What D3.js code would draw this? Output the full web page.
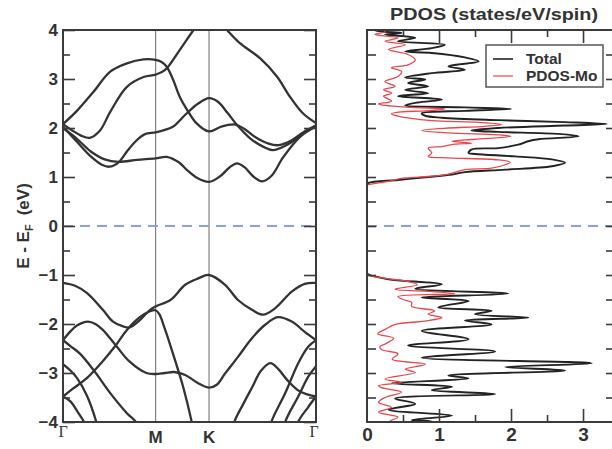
<!DOCTYPE html>
<html><head><meta charset="utf-8">
<script src="https://cdn.jsdelivr.net/npm/d3@7"></script>
<style>body{margin:0;background:#fff}</style>
</head><body>
<svg id="c" width="612" height="449" xmlns="http://www.w3.org/2000/svg"></svg>
<script>
// ---------------- data ----------------
const kPoints = [0, 1, 1.577, 2.732];
const kLabels = ["Γ", "M", "K", "Γ"];
const energyTicks = [-4, -3, -2, -1, 0, 1, 2, 3, 4];
const dosTicks = [0, 1, 2, 3];
const fermiLevel = 0;

// band structure: [k, E]
const cb1 = [[0,2.08],[0.15,2.35],[0.33,2.74],[0.51,3.15],[0.69,3.32],[0.87,3.40],[1.0,3.39],[1.06,3.35],[1.12,3.25],[1.19,2.98],[1.26,2.64],[1.34,2.37],[1.44,2.10],[1.577,1.93],[1.71,2.03],[1.86,2.07],[1.96,1.98],[2.07,1.82],[2.22,1.68],[2.33,1.65],[2.47,1.75],[2.60,1.92],[2.732,2.05]];
const cb2 = [[0,2.08],[0.1,1.95],[0.2,1.84],[0.29,1.80],[0.4,1.95],[0.51,2.33],[0.69,2.84],[0.87,3.04],[1.0,3.09],[1.10,3.18],[1.26,3.59],[1.41,4.0],[1.577,4.4],[1.77,4.0],[1.91,3.73],[2.13,3.42],[2.31,3.05],[2.45,2.64],[2.59,2.30],[2.732,2.10]];
const cb3 = [[0,2.03],[0.15,1.72],[0.3,1.42],[0.42,1.25],[0.5,1.21],[0.6,1.30],[0.69,1.52],[0.78,1.72],[0.88,1.87],[1.0,1.91],[1.1,1.96],[1.19,2.03],[1.32,2.27],[1.46,2.50],[1.577,2.61],[1.67,2.54],[1.78,2.30],[1.88,2.06],[2.02,1.79],[2.16,1.62],[2.27,1.55],[2.45,1.69],[2.59,1.89],[2.732,2.05]];
const cb4 = [[0,2.0],[0.15,1.78],[0.3,1.52],[0.45,1.36],[0.6,1.31],[0.8,1.35],[1.0,1.38],[1.12,1.41],[1.25,1.30],[1.34,1.14],[1.45,0.98],[1.577,0.90],[1.70,1.02],[1.80,1.20],[1.88,1.28],[1.96,1.20],[2.05,1.02],[2.15,0.91],[2.25,1.02],[2.38,1.41],[2.56,1.82],[2.732,2.03]];
const vb1 = [[0,-1.16],[0.13,-1.22],[0.26,-1.37],[0.43,-1.71],[0.54,-1.95],[0.65,-2.05],[0.72,-2.07],[0.83,-1.92],[0.94,-1.71],[1.0,-1.64],[1.16,-1.51],[1.32,-1.20],[1.46,-1.07],[1.577,-1.0],[1.75,-1.20],[1.89,-1.51],[2.04,-1.71],[2.16,-1.81],[2.29,-1.68],[2.47,-1.34],[2.61,-1.18],[2.732,-1.16]];
const vb2 = [[0,-2.33],[0.08,-2.15],[0.15,-2.03],[0.27,-1.95],[0.35,-2.0],[0.43,-2.12],[0.58,-2.46],[0.72,-2.77],[0.9,-3.0],[1.0,-3.02],[1.1,-3.0],[1.2,-2.98],[1.32,-3.04],[1.46,-3.21],[1.577,-3.30],[1.66,-3.24],[1.75,-3.01],[1.89,-2.67],[2.04,-2.29],[2.18,-2.02],[2.32,-1.86],[2.47,-1.95],[2.61,-2.16],[2.732,-2.33]];
const vb3 = [[0,-3.48],[0.1,-3.33],[0.26,-3.10],[0.42,-2.78],[0.56,-2.46],[0.69,-2.12],[0.83,-1.86],[0.94,-1.74],[1.0,-1.72],[1.04,-1.80],[1.10,-2.10],[1.19,-2.62],[1.30,-3.30],[1.39,-4.0],[1.42,-4.3]];
const vb4 = [[0,-2.33],[0.08,-2.45],[0.18,-2.60],[0.33,-2.94],[0.51,-3.41],[0.69,-3.82],[0.80,-4.03],[0.84,-4.3]];
const vb5 = [[0,-2.82],[0.08,-2.95],[0.15,-3.10],[0.26,-3.47],[0.36,-4.0],[0.40,-4.3]];
const vb6 = [[0,-3.48],[0.08,-3.58],[0.16,-3.80],[0.24,-4.05],[0.27,-4.3]];
const vb7 = [[1.82,-4.3],[1.85,-4.0],[1.95,-3.62],[2.04,-3.30],[2.14,-2.95],[2.24,-2.80],[2.33,-2.93],[2.42,-3.14],[2.56,-3.38],[2.732,-3.48]];
const vb8 = [[2.22,-4.3],[2.25,-4.0],[2.40,-3.41],[2.54,-2.80],[2.65,-2.46],[2.732,-2.33]];
const vb9 = [[2.38,-4.3],[2.40,-4.0],[2.54,-3.48],[2.65,-3.07],[2.732,-2.86]];
const vb10 = [[2.52,-4.3],[2.54,-4.0],[2.65,-3.69],[2.732,-3.48]];
const bands = [cb1, cb2, cb3, cb4, vb1, vb2, vb3, vb4, vb5, vb6, vb7, vb8, vb9, vb10];

// PDOS: [E, states/eV/spin]
const totalValence = [[-4.1,0.9],[-4.0,0.9],[-3.96,0.62],[-3.87,1.18],[-3.75,0.30],[-3.63,0.67],[-3.52,0.39],[-3.43,1.78],[-3.35,0.9],[-3.28,1.18],[-3.21,0.34],[-3.11,1.41],[-3.05,1.13],[-2.95,2.75],[-2.88,1.92],[-2.80,3.12],[-2.69,0.76],[-2.56,1.78],[-2.44,0.57],[-2.31,1.41],[-2.14,0.76],[-2.01,1.73],[-1.93,1.36],[-1.87,2.24],[-1.80,1.5],[-1.73,1.73],[-1.66,0.99],[-1.53,1.41],[-1.46,0.76],[-1.38,1.96],[-1.28,0.67],[-1.19,1.04],[-1.10,0.35],[-1.06,0.2],[-0.99,0.02],[-0.95,0]];
const moValence = [[-4.1,0.3],[-4.0,0.3],[-3.90,0.43],[-3.80,0.16],[-3.70,0.34],[-3.60,0.16],[-3.50,0.25],[-3.39,0.48],[-3.30,0.2],[-3.26,0.16],[-3.19,0.48],[-3.12,0.25],[-2.99,0.67],[-2.92,0.53],[-2.82,0.81],[-2.72,0.35],[-2.61,0.43],[-2.52,0.2],[-2.46,0.18],[-2.41,0.25],[-2.29,0.37],[-2.2,0.15],[-2.11,0.25],[-2.01,0.39],[-1.94,0.8],[-1.87,1.04],[-1.80,0.85],[-1.73,0.94],[-1.64,0.62],[-1.56,0.62],[-1.50,0.5],[-1.44,0.43],[-1.38,1.22],[-1.33,0.8],[-1.29,0.39],[-1.2,0.7],[-1.12,0.53],[-1.06,0.2],[-0.99,0],[-0.95,0]];
const totalConduction = [[0.84,0],[0.88,0.02],[0.94,0.43],[1.0,0.85],[1.05,1.18],[1.10,1.36],[1.15,1.92],[1.22,2.57],[1.29,2.75],[1.36,2.57],[1.42,2.06],[1.47,1.5],[1.49,1.41],[1.56,1.45],[1.59,1.82],[1.66,2.1],[1.73,2.24],[1.77,2.38],[1.83,2.94],[1.88,2.66],[1.92,1.82],[1.95,1.45],[2.0,1.82],[2.05,2.75],[2.08,3.33],[2.12,2.75],[2.16,1.82],[2.21,1.04],[2.25,0.81],[2.30,0.76],[2.35,1.36],[2.39,2.0],[2.42,1.36],[2.46,0.53],[2.52,0.7],[2.58,1.04],[2.65,0.43],[2.71,0.85],[2.78,0.53],[2.85,0.85],[2.92,0.57],[2.99,0.81],[3.03,0.53],[3.12,0.90],[3.19,1.36],[3.26,1.13],[3.36,1.55],[3.44,1.36],[3.53,0.9],[3.56,0.53],[3.63,0.9],[3.70,1.08],[3.77,0.43],[3.84,0.67],[3.91,0.25],[3.94,0.48],[3.99,0.11],[4.1,0.3]];
const moConduction = [[0.84,0],[0.90,0.25],[0.98,0.53],[1.01,0.85],[1.05,1.10],[1.15,1.36],[1.18,1.73],[1.25,1.92],[1.30,1.99],[1.35,1.82],[1.39,1.13],[1.42,0.85],[1.49,0.9],[1.59,0.85],[1.62,1.04],[1.67,1.22],[1.69,1.45],[1.73,1.18],[1.77,1.5],[1.83,2.0],[1.86,1.82],[1.90,1.13],[1.95,0.76],[2.0,1.13],[2.03,1.59],[2.07,1.87],[2.12,1.5],[2.15,0.9],[2.24,0.43],[2.29,0.34],[2.33,0.48],[2.35,0.81],[2.39,1.08],[2.42,0.62],[2.46,0.25],[2.49,0.16],[2.55,0.34],[2.65,0.23],[2.71,0.34],[2.78,0.23],[2.85,0.39],[2.95,0.25],[3.05,0.43],[3.15,0.48],[3.23,0.34],[3.29,0.57],[3.39,0.67],[3.50,0.57],[3.60,0.30],[3.70,0.53],[3.77,0.25],[3.84,0.43],[3.91,0.11],[3.97,0.25],[4.1,0.1]];

const legendLabels = ["Total", "PDOS-Mo"];
const seriesColors = ["#222222", "#e8474c"];

// ---------------- drawing ----------------
const svg = d3.select("#c");
const sans = "'Liberation Sans', Arial, Helvetica, sans-serif";
const frameColor = "#3a3a3a";

const L = {x0: 63, x1: 316, y0: 30, y1: 422};
const R = {x0: 367, x1: 615, y0: 30, y1: 422};

const kx = d3.scaleLinear().domain([0, 2.732]).range([L.x0, L.x1]);
const ey = d3.scaleLinear().domain([-4, 4]).range([L.y1, L.y0]);
const dx = d3.scaleLinear().domain([0, 3.444]).range([R.x0, R.x1]);

const defs = svg.append("defs");
defs.append("clipPath").attr("id", "clipL").append("rect")
  .attr("x", L.x0).attr("y", L.y0).attr("width", L.x1 - L.x0).attr("height", L.y1 - L.y0);
defs.append("clipPath").attr("id", "clipR").append("rect")
  .attr("x", R.x0).attr("y", R.y0).attr("width", R.x1 - R.x0).attr("height", R.y1 - R.y0);

const minorE = d3.range(-3.5, 4, 1);

// ----- left panel -----
const gL = svg.append("g");
// high-symmetry lines
gL.selectAll("line.hs").data(kPoints.slice(1, 3)).join("line")
  .attr("x1", d => kx(d)).attr("x2", d => kx(d))
  .attr("y1", L.y0).attr("y2", L.y1)
  .attr("stroke", "#808080").attr("stroke-width", 1.2);
// Fermi level
gL.append("line").attr("x1", L.x0).attr("x2", L.x1)
  .attr("y1", ey(fermiLevel)).attr("y2", ey(fermiLevel))
  .attr("stroke", "#8d9cf0").attr("stroke-width", 2).attr("stroke-dasharray", "10,7");
// bands
const bandLine = d3.line().x(d => kx(d[0])).y(d => ey(d[1])).curve(d3.curveCatmullRom.alpha(0.5));
gL.append("g").attr("clip-path", "url(#clipL)")
  .selectAll("path").data(bands).join("path")
  .attr("d", bandLine).attr("fill", "none")
  .attr("stroke", "#333").attr("stroke-width", 2.3).attr("stroke-linejoin", "round");

// ticks
function ticksOnly(axis, g) { g.call(axis); g.select(".domain").remove(); g.selectAll("text").remove(); g.selectAll("line").attr("stroke", frameColor).attr("stroke-width", 1.6); }
ticksOnly(d3.axisRight(ey).tickValues(energyTicks).tickSize(12), gL.append("g").attr("transform", `translate(${L.x0},0)`));
ticksOnly(d3.axisRight(ey).tickValues(minorE).tickSize(7), gL.append("g").attr("transform", `translate(${L.x0},0)`));
ticksOnly(d3.axisLeft(ey).tickValues(energyTicks).tickSize(12), gL.append("g").attr("transform", `translate(${L.x1},0)`));
ticksOnly(d3.axisLeft(ey).tickValues(minorE).tickSize(7), gL.append("g").attr("transform", `translate(${L.x1},0)`));

// labels
const yLab = gL.append("g").attr("transform", `translate(${L.x0},0)`)
  .call(d3.axisLeft(ey).tickValues(energyTicks).tickSize(0).tickPadding(5).tickFormat(d3.format("d")));
yLab.select(".domain").remove();
yLab.selectAll("text").attr("font-family", sans).attr("font-weight", "bold").attr("font-size", 17).attr("fill", "#333");

gL.append("rect").attr("x", L.x0).attr("y", L.y0).attr("width", L.x1 - L.x0).attr("height", L.y1 - L.y0)
  .attr("fill", "none").attr("stroke", frameColor).attr("stroke-width", 2);

// k labels
kLabels.forEach((lab, i) => {
  const isG = lab === "Γ";
  gL.append("text").attr("x", kx(kPoints[i]) + (i === 3 ? -2 : 0)).attr("y", isG ? 437 : 443)
    .attr("text-anchor", "middle")
    .attr("font-family", isG ? "'Liberation Serif', 'Times New Roman', serif" : sans)
    .attr("font-weight", isG ? "normal" : "bold")
    .attr("font-size", isG ? 16 : 17).attr("fill", "#333").text(lab);
});

// y axis title
const yt = svg.append("text").attr("transform", `translate(29,${ey(0)}) rotate(-90)`)
  .attr("text-anchor", "middle").attr("font-family", sans).attr("font-weight", "bold")
  .attr("font-size", 17).attr("fill", "#333");
yt.append("tspan").text("E - E");
yt.append("tspan").attr("font-size", 11).attr("dy", 4).text("F");
yt.append("tspan").attr("dy", -4).attr("dx", 9).text("(eV)");

// ----- right panel -----
const gR = svg.append("g");
gR.append("line").attr("x1", R.x0).attr("x2", R.x1)
  .attr("y1", ey(fermiLevel)).attr("y2", ey(fermiLevel))
  .attr("stroke", "#8d9cf0").attr("stroke-width", 2).attr("stroke-dasharray", "10,7");

const dosLine = d3.line().x(d => dx(d[1])).y(d => ey(d[0])).curve(d3.curveCatmullRom.alpha(0.5));
const gc = gR.append("g").attr("clip-path", "url(#clipR)");
[[totalValence, totalConduction], [moValence, moConduction]].forEach((segs, i) => {
  segs.forEach(s => gc.append("path").attr("d", dosLine(s)).attr("fill", "none")
    .attr("stroke", seriesColors[i]).attr("stroke-width", i === 0 ? 1.9 : 1.3)
    .attr("stroke-linejoin", "round"));
});

const halfE = d3.range(-3.5, 4, 0.5);
ticksOnly(d3.axisRight(ey).tickValues(halfE).tickSize(9), gR.append("g").attr("transform", `translate(${R.x0},0)`));
ticksOnly(d3.axisLeft(ey).tickValues(halfE).tickSize(9), gR.append("g").attr("transform", `translate(${R.x1},0)`));
const minorD = [0.5, 1.5, 2.5];
ticksOnly(d3.axisTop(dx).tickValues(dosTicks.slice(1)).tickSize(13), gR.append("g").attr("transform", `translate(0,${R.y1})`));
ticksOnly(d3.axisTop(dx).tickValues(minorD).tickSize(7), gR.append("g").attr("transform", `translate(0,${R.y1})`));
ticksOnly(d3.axisBottom(dx).tickValues(dosTicks.slice(1)).tickSize(13), gR.append("g").attr("transform", `translate(0,${R.y0})`));
ticksOnly(d3.axisBottom(dx).tickValues(minorD).tickSize(7), gR.append("g").attr("transform", `translate(0,${R.y0})`));

const xLab = gR.append("g").attr("transform", `translate(0,${R.y1})`)
  .call(d3.axisBottom(dx).tickValues(dosTicks).tickSize(0).tickPadding(6).tickFormat(d3.format("d")));
xLab.select(".domain").remove();
xLab.selectAll("text").attr("font-family", sans).attr("font-weight", "bold").attr("font-size", 19).attr("fill", "#333");

gR.append("rect").attr("x", R.x0).attr("y", R.y0).attr("width", R.x1 - R.x0).attr("height", R.y1 - R.y0)
  .attr("fill", "none").attr("stroke", frameColor).attr("stroke-width", 2);

// title
svg.append("text").attr("x", 494).attr("y", 20).attr("text-anchor", "middle")
  .attr("font-family", sans).attr("font-weight", "bold").attr("font-size", 17).attr("fill", "#333")
  .attr("textLength", 208).attr("lengthAdjust", "spacingAndGlyphs")
  .text("PDOS (states/eV/spin)");

// legend
const lg = svg.append("g");
lg.append("rect").attr("x", 486).attr("y", 45).attr("width", 117).attr("height", 42)
  .attr("fill", "#fff").attr("stroke", "#555").attr("stroke-width", 1.5);
legendLabels.forEach((lab, i) => {
  const y = 59 + i * 17;
  lg.append("line").attr("x1", 493).attr("x2", 513).attr("y1", y).attr("y2", y)
    .attr("stroke", seriesColors[i]).attr("stroke-width", i === 0 ? 1.6 : 1.2);
  lg.append("text").attr("x", 526).attr("y", y + 5).attr("font-family", sans).attr("font-weight", "bold")
    .attr("font-size", 15.5).attr("fill", "#333").text(lab);
});
</script>
</body></html>
